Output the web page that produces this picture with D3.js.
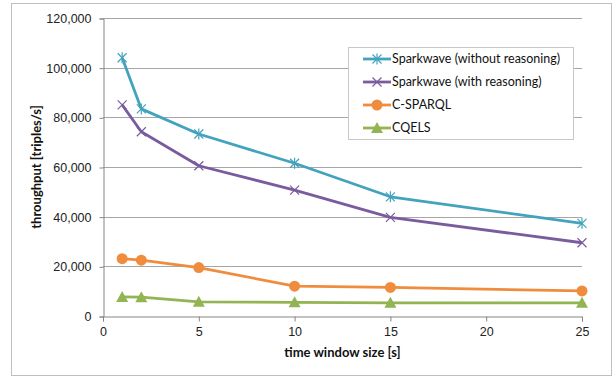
<!DOCTYPE html>
<html>
<head>
<meta charset="utf-8">
<script src="https://cdn.jsdelivr.net/npm/d3@7"></script>
<style>
	body { margin: 0; background: #fff; }
	svg { font-family: Lato, "Open Sans", sans-serif; }
	.tick text { font-size: 12.5px; fill: #222; }
	.legend text { font-size: 12.5px; fill: #111; }
	.title { font-size: 13px; font-weight: bold; fill: #111; }
</style>
</head>
<body>
<script>
// data
var windowSizes = [1, 2, 5, 10, 15, 25];
var seriesNames = ["Sparkwave (without reasoning)", "Sparkwave (with reasoning)", "C-SPARQL", "CQELS"];
var sparkwaveNoReasoning = [104000, 83400, 73300, 61500, 48000, 37300];
var sparkwaveReasoning = [85000, 74200, 60500, 50700, 39700, 29500];
var cSparql = [23100, 22500, 19500, 12000, 11500, 10100];
var cqels = [7700, 7600, 5700, 5500, 5300, 5300];
var yTicks = [0, 20000, 40000, 60000, 80000, 100000, 120000];
var xTicks = [0, 5, 10, 15, 20, 25];

var colors = ["#43A3BD", "#7A5C9E", "#F08C3E", "#92B452"];
var markers = ["star", "cross", "circle", "triangle"];
var allValues = [sparkwaveNoReasoning, sparkwaveReasoning, cSparql, cqels];

var width = 616, height = 377;
var margin = {left: 103, right: 34, top: 18, bottom: 61};

var svg = d3.select("body").append("svg")
	.attr("width", width)
	.attr("height", height);

// outer frame
svg.append("rect")
	.attr("x", 11.5).attr("y", 3.5)
	.attr("width", 600).attr("height", 372)
	.attr("fill", "#fff")
	.attr("stroke", "#bfbfbf");

var x = d3.scaleLinear().domain([0, 25]).range([margin.left, width - margin.right]);
var y = d3.scaleLinear().domain([0, 120000]).range([height - margin.bottom, margin.top]);

// gridlines
svg.append("g").selectAll("line")
	.data(yTicks.slice(1))
	.enter().append("line")
	.attr("x1", x(0)).attr("x2", x(25))
	.attr("y1", function(d){ return Math.round(y(d)) + 0.5; })
	.attr("y2", function(d){ return Math.round(y(d)) + 0.5; })
	.attr("stroke", "#a6a6a6");

// axes
var fmt = d3.format(",");
var yAxis = d3.axisLeft(y).tickValues(yTicks).tickFormat(fmt).tickSize(4).tickPadding(8);
var xAxis = d3.axisBottom(x).tickValues(xTicks).tickSize(5).tickPadding(6);

var gy = svg.append("g")
	.attr("transform", "translate(" + (Math.round(x(0)) + 0.5) + ",0.5)")
	.call(yAxis);
var gx = svg.append("g")
	.attr("transform", "translate(0," + (Math.round(y(0)) + 0.5) + ")")
	.call(xAxis);
[gx, gy].forEach(function(g){
	g.select(".domain").attr("stroke", "#868686");
	g.selectAll(".tick line").attr("stroke", "#868686");
});

// axis titles
svg.append("text")
	.attr("class", "title")
	.attr("x", (x(0) + x(25)) / 2)
	.attr("y", 357)
	.attr("text-anchor", "middle")
	.text("time window size [s]");
svg.append("text")
	.attr("class", "title")
	.attr("transform", "translate(41," + ((y(0) + y(120000)) / 2) + ") rotate(-90)")
	.attr("text-anchor", "middle")
	.text("throughput [triples/s]");

function drawMarker(g, type, color) {
	if (type == "circle") {
		g.append("circle").attr("r", 5.5).attr("fill", color);
	} else if (type == "triangle") {
		g.append("path").attr("d", "M0,-6L6,5L-6,5Z").attr("fill", color);
	} else {
		g.append("path").attr("d", "M-4.5,-4.5L4.5,4.5M-4.5,4.5L4.5,-4.5")
			.attr("stroke", color).attr("stroke-width", 1.2).attr("fill", "none");
		if (type == "star") {
			g.append("path").attr("d", "M0,-5.5V5.5")
				.attr("stroke", color).attr("stroke-width", 1.2);
		}
	}
}

var line = d3.line()
	.x(function(d, i){ return x(windowSizes[i]); })
	.y(function(d){ return y(d); });

allValues.forEach(function(vals, s) {
	svg.append("path")
		.datum(vals)
		.attr("d", line)
		.attr("fill", "none")
		.attr("stroke", colors[s])
		.attr("stroke-width", 2.8)
		.attr("stroke-linejoin", "round");
	vals.forEach(function(v, i) {
		var g = svg.append("g").attr("transform", "translate(" + x(windowSizes[i]) + "," + y(v) + ")");
		drawMarker(g, markers[s], colors[s]);
	});
});

// legend
var legend = svg.append("g").attr("class", "legend");
legend.append("rect")
	.attr("x", 348.5).attr("y", 47.5)
	.attr("width", 225).attr("height", 92)
	.attr("fill", "#fff")
	.attr("stroke", "#c8c8c8");
seriesNames.forEach(function(name, s) {
	var ly = 59 + s * 23;
	var g = legend.append("g").attr("transform", "translate(0," + ly + ")");
	g.append("line")
		.attr("x1", 363).attr("x2", 391)
		.attr("stroke", colors[s]).attr("stroke-width", 2.8);
	var m = g.append("g").attr("transform", "translate(377,0)");
	drawMarker(m, markers[s], colors[s]);
	g.append("text")
		.attr("x", 392).attr("dy", "0.35em")
		.text(name);
});
</script>
</body>
</html>
